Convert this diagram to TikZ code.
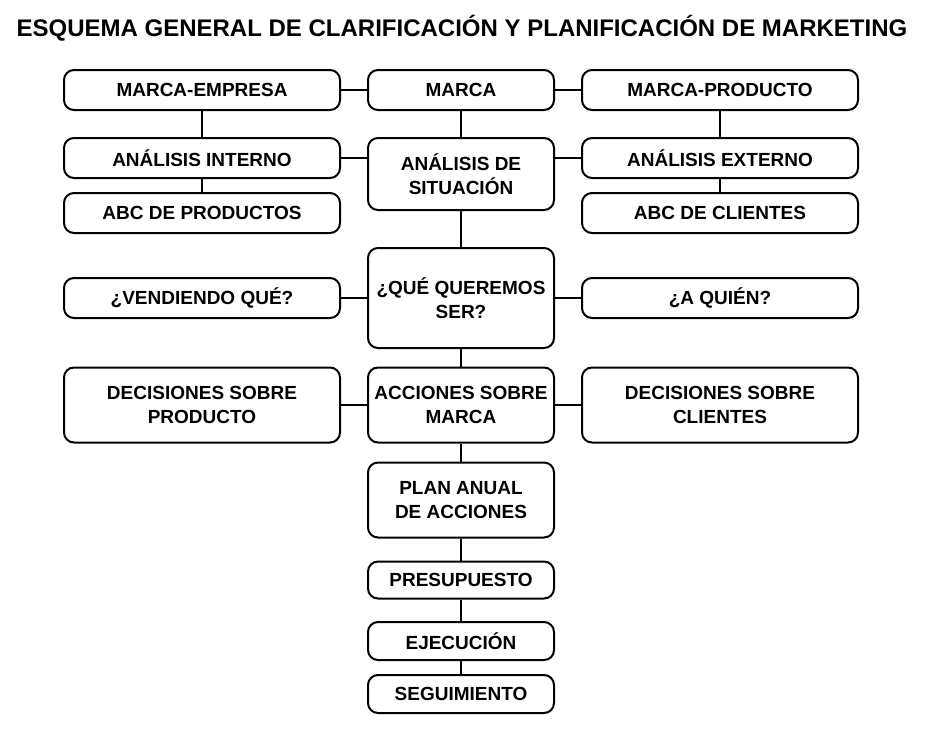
\documentclass[tikz,border=0pt]{standalone}
\usepackage{fontspec}
\setmainfont{Liberation Sans}
\begin{document}
\begin{tikzpicture}[x=1pt,y=-1pt,
	box/.style={draw,line width=2pt,rounded corners=10pt,align=center,inner sep=0pt,
		font=\fontsize{19}{24}\selectfont\bfseries},
	wide/.style={box,minimum width=276pt},
	mid/.style={box,minimum width=186pt},
	link/.style={line width=1.6pt}]
	\useasboundingbox (0,0) rectangle (929,739);
	\node[font=\fontsize{24}{28}\selectfont\bfseries] (title) at (462,28) {ESQUEMA GENERAL DE CLARIFICACIÓN Y PLANIFICACIÓN DE MARKETING};

	%first rows
	\node[wide,minimum height=40pt] (empresa) at (202,90) {MARCA-EMPRESA};
	\node[mid,minimum height=40pt] (marca) at (461,90) {MARCA};
	\node[wide,minimum height=40pt] (producto) at (720,90) {MARCA-PRODUCTO};
	\node[wide,minimum height=40pt] (interno) at (202,158) {ANÁLISIS INTERNO};
	\node[mid,minimum height=72pt] (situacion) at (461,174) {ANÁLISIS DE\\SITUACIÓN};
	\node[wide,minimum height=40pt] (externo) at (720,158) {ANÁLISIS EXTERNO};
	\node[wide,minimum height=40pt] (abcprod) at (202,213) {ABC DE PRODUCTOS};
	\node[wide,minimum height=40pt] (abccli) at (720,213) {ABC DE CLIENTES};

	%questions and decisions
	\node[mid,minimum height=100pt] (queremos) at (461,298) {¿QUÉ QUEREMOS\\SER?};
	\node[wide,minimum height=40pt] (vendiendo) at (202,298) {¿VENDIENDO QUÉ?};
	\node[wide,minimum height=40pt] (quien) at (720,298) {¿A QUIÉN?};
	\node[wide,minimum height=75pt] (decprod) at (202,405) {DECISIONES SOBRE\\PRODUCTO};
	\node[mid,minimum height=75pt] (acciones) at (461,405) {ACCIONES SOBRE\\MARCA};
	\node[wide,minimum height=75pt] (deccli) at (720,405) {DECISIONES SOBRE\\CLIENTES};

	%plan
	\node[mid,minimum height=75pt] (plan) at (461,500) {PLAN ANUAL\\DE ACCIONES};
	\node[mid,minimum height=37pt] (presupuesto) at (461,580) {PRESUPUESTO};
	\node[mid,minimum height=38pt] (ejecucion) at (461,641) {EJECUCIÓN};
	\node[mid,minimum height=38pt] (seguimiento) at (461,694) {SEGUIMIENTO};

	\draw[link] (empresa) -- (marca) -- (producto);
	\draw[link] (empresa) -- (interno) -- (abcprod);
	\draw[link] (producto) -- (externo) -- (abccli);
	\draw[link] (interno.east) -- (interno.east -| situacion.west);
	\draw[link] (externo.west) -- (externo.west -| situacion.east);
	\draw[link] (marca) -- (situacion) -- (queremos) -- (acciones) -- (plan)
		-- (presupuesto) -- (ejecucion) -- (seguimiento);
	\draw[link] (vendiendo) -- (queremos) -- (quien);
	\draw[link] (decprod) -- (acciones) -- (deccli);
\end{tikzpicture}
\end{document}
